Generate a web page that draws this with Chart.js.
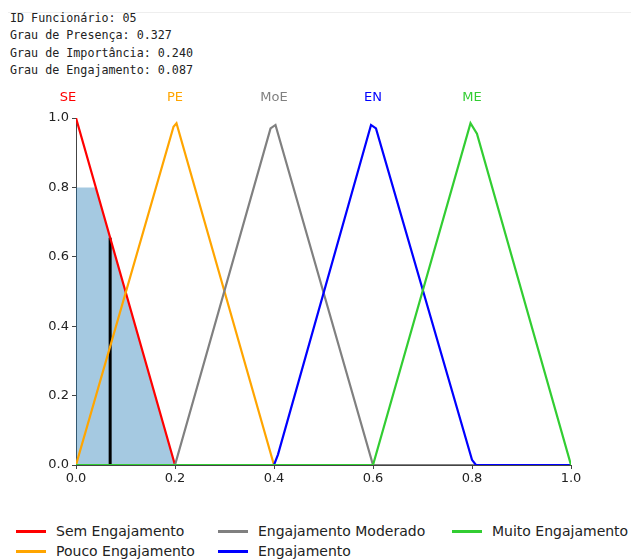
<!DOCTYPE html>
<html>
<head>
<meta charset="utf-8">
<script src="https://cdn.jsdelivr.net/npm/chart.js@4.4.1/dist/chart.umd.min.js"></script>
<style>
  body { margin: 0; background: #fff; width: 631px; height: 559px; overflow: hidden; position: relative; }
  .topline { position: absolute; left: 8px; right: 0; top: 12px; border-top: 1px solid #eee; }
  #info { position: absolute; left: 10px; top: 10px; font-family: "DejaVu Sans Mono", monospace; font-size: 11.7px; line-height: 17.4px; color: #222; white-space: pre; }
  #wrap { position: absolute; left: 0; top: 81px; width: 631px; height: 420px; }
  #legend { position: absolute; left: 0; top: 522px; width: 631px; font-family: "DejaVu Sans", sans-serif; font-size: 14px; color: #222; }
  .item { position: absolute; height: 18px; line-height: 18px; white-space: nowrap; }
  .item span.sw { position: absolute; left: 0; top: 8px; width: 30px; height: 2.5px; }
  .item span.tx { position: absolute; left: 40px; top: 0; }
</style>
</head>
<body>
<div class="topline"></div>
<div id="info"></div>
<div id="wrap"><canvas id="chart"></canvas></div>
<div id="legend"></div>
<script>
// employee result shown above the plot
const infoLines = [
  "ID Funcionário: 05",
  "Grau de Presença: 0.327",
  "Grau de Importância: 0.240",
  "Grau de Engajamento: 0.087"
];

// membership functions (x, y vertices over the universe 0..1)
const names = ["Sem Engajamento", "Pouco Engajamento", "Engajamento Moderado", "Engajamento", "Muito Engajamento"];
const shortNames = ["SE", "PE", "MoE", "EN", "ME"];
const colors = ["#ff0000", "#ffa500", "#808080", "#0000ff", "#32cd32"];
const labelX = [-0.016, 0.2, 0.4, 0.6, 0.8];

const seX = [0, 0.2, 1.0];
const seY = [1.0, 0, 0];
const peX = [0, 0.197, 0.203, 0.4, 1.0];
const peY = [0, 0.975, 0.985, 0, 0];
const moeX = [0, 0.2, 0.393, 0.403, 0.6, 1.0];
const moeY = [0, 0, 0.97, 0.98, 0, 0];
const enX = [0, 0.4, 0.408, 0.596, 0.606, 0.8, 0.808, 1.0];
const enY = [0, 0, 0.03, 0.98, 0.97, 0.015, 0, 0];
const meX = [0, 0.6, 0.797, 0.81, 1.0];
const meY = [0, 0, 0.985, 0.955, 0];

// aggregated output (clipped SE) and defuzzified value
const aggX = [0, 0.04, 0.2];
const aggY = [0.8, 0.8, 0];
const crispX = 0.069;
const crispY = 0.655;

document.getElementById("info").textContent = infoLines.join("\n");

const curves = [[seX, seY], [peX, peY], [moeX, moeY], [enX, enY], [meX, meY]];
const toPts = (xs, ys) => xs.map((x, i) => ({ x: x, y: ys[i] }));

const datasets = [
  {
    label: "agregado",
    data: toPts(aggX, aggY),
    showLine: true,
    fill: "origin",
    backgroundColor: "rgba(31,119,180,0.4)",
    borderWidth: 0,
    pointRadius: 0,
    order: 10
  },
  {
    label: "defuzzificado",
    data: [{ x: crispX, y: 0 }, { x: crispX, y: crispY }],
    showLine: true,
    borderColor: "#000",
    borderWidth: 3,
    pointRadius: 0,
    order: 9
  }
];
curves.forEach((c, i) => {
  datasets.push({
    label: names[i],
    data: toPts(c[0], c[1]),
    showLine: true,
    borderColor: colors[i],
    borderWidth: 2.2,
    pointRadius: 0,
    fill: false,
    order: 5 - i
  });
});

// short names over each peak
const peakLabels = {
  id: "peakLabels",
  afterDraw(chart) {
    const ctx = chart.ctx;
    const xs = chart.scales.x, ys = chart.scales.y;
    ctx.save();
    ctx.font = "13px 'DejaVu Sans'";
    ctx.textAlign = "center";
    ctx.textBaseline = "middle";
    shortNames.forEach((n, i) => {
      ctx.fillStyle = colors[i];
      ctx.fillText(n, xs.getPixelForValue(labelX[i]), ys.getPixelForValue(1.058));
    });
    ctx.restore();
  }
};

const tickFont = { family: "DejaVu Sans", size: 13 };

new Chart(document.getElementById("chart"), {
  type: "scatter",
  data: { datasets: datasets },
  options: {
    responsive: true,
    maintainAspectRatio: false,
    animation: false,
    layout: { padding: { top: 37, right: 60, left: 0, bottom: 0 } },
    plugins: { legend: { display: false }, tooltip: { enabled: false } },
    scales: {
      x: {
        type: "linear",
        min: 0,
        max: 1,
        afterFit(s) { s.height = 36; },
        ticks: { stepSize: 0.2, color: "#222", font: tickFont, padding: 2, callback: v => v.toFixed(1) },
        grid: { display: true, drawOnChartArea: false, drawTicks: true, tickLength: 4, color: "#444" },
        border: { display: true, color: "#444", width: 1 }
      },
      y: {
        min: 0,
        max: 1,
        afterFit(s) { s.width = 76; },
        ticks: { stepSize: 0.2, color: "#222", font: tickFont, padding: 3, callback: v => v.toFixed(1) },
        grid: { display: true, drawOnChartArea: false, drawTicks: true, tickLength: 4, color: "#444" },
        border: { display: true, color: "#444", width: 1 }
      }
    }
  },
  plugins: [peakLabels]
});

// legend laid out in three columns
const legendPos = [[16, 0], [16, 20], [218, 0], [218, 20], [452, 0]];
const legend = document.getElementById("legend");
names.forEach((n, i) => {
  const d = document.createElement("div");
  d.className = "item";
  d.style.left = legendPos[i][0] + "px";
  d.style.top = legendPos[i][1] + "px";
  d.innerHTML = '<span class="sw" style="background:' + colors[i] + '"></span><span class="tx">' + n + "</span>";
  legend.appendChild(d);
});
</script>
</body>
</html>
